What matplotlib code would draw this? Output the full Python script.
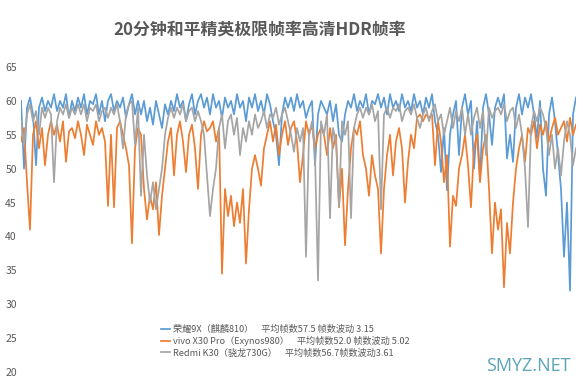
import matplotlib
matplotlib.use("Agg")
import matplotlib.pyplot as plt
import numpy as np

plt.rcParams['font.family'] = ['Noto Sans CJK SC', 'DejaVu Sans']

title = "20分钟和平精英极限帧率高清HDR帧率"
yticks = [20, 25, 30, 35, 40, 45, 50, 55, 60, 65]
labels = [
    "荣耀9X（麒麟810）    平均帧数57.5 帧数波动 3.15",
    "vivo X30 Pro（Exynos980）    平均帧数52.0 帧数波动 5.02",
    "Redmi K30（骁龙730G）    平均帧数56.7帧数波动3.61",
]

honor = [
    60, 50, 59, 60.5, 58, 50.5, 59, 60.5, 58.5, 60,
    59, 61, 58.5, 60, 59, 61, 57.5, 60, 58.5, 60.5,
    59, 61, 58, 60, 59.5, 61, 58, 60, 57, 60,
    61, 58.5, 60, 59, 60.5, 57.5, 59.5, 61, 58, 60,
    58, 60, 57, 59, 56.5, 60, 58, 56, 59.5, 58,
    60, 58.5, 61, 59, 60, 57, 59.5, 61, 58, 60,
    61, 59, 60.5, 58, 61, 59, 60, 57.5, 60.5, 59,
    60, 58, 61, 59, 60, 57, 60.5, 59, 61, 58.5,
    60, 58, 61, 59.5, 57, 55, 50.5, 58, 60.5, 59,
    60.5, 58.5, 61, 59, 60, 57.5, 59, 60, 50.5, 58,
    60, 59, 58, 60, 57, 59.5, 55, 54, 58, 60,
    59, 61, 58.5, 60, 59, 61, 58, 60, 59.5, 61,
    59, 60.5, 58, 61, 59, 60, 58.5, 61, 59, 60,
    58.5, 61, 59, 60, 58, 60.5, 59, 61, 57, 55,
    49.5, 56, 46.8, 55, 58, 60, 52, 59, 61, 58,
    60, 50, 57, 48.5, 59, 61, 58, 53.5, 59, 60.5,
    59, 61, 51.5, 55, 51, 59, 61, 58, 60.5, 59,
    61, 58, 54.5, 60, 50, 46, 58, 60.5, 57, 52,
    47, 37, 45, 32, 58, 60.5,
]

vivo = [
    54, 56, 48, 41, 55, 57, 53, 56, 50.5, 55,
    57, 55, 56.5, 54, 57, 51, 55.5, 56, 54.5, 57,
    55, 52, 56.5, 55, 53.5, 57, 55, 56, 54, 44.5,
    55, 44.3, 56, 57, 55, 53, 50.5, 39, 53, 56,
    55, 47, 42.5, 46, 44, 48, 40.2, 46, 50, 54,
    56, 49, 55, 57, 54, 49.5, 55, 56.5, 53, 47,
    55, 57, 55.5, 56, 57, 54, 56, 34.5, 47, 43,
    46, 41.5, 45, 42, 47, 36, 44, 50, 52, 50,
    47.5, 53, 55, 57, 54, 56.5, 52, 55, 57, 53.5,
    56, 57, 54, 48, 52, 57, 55, 56.5, 53, 55,
    56, 55, 52, 56, 53, 55, 44.3, 50, 38.7, 47,
    53, 56, 55, 57, 52, 50, 46, 52, 49, 47,
    37.5, 47, 52, 55, 49, 54, 56, 53, 45, 51,
    55, 53, 57.5, 58, 57, 58, 57.5, 58, 50.5, 57,
    54, 48, 52, 38.5, 46, 44.5, 50, 52, 55, 50.5,
    44.3, 53, 55, 48, 53, 55, 47, 37.5, 45, 41,
    44, 32.5, 42, 37.5, 45, 50, 53, 55, 51, 56,
    55, 57, 53, 56.5, 55, 57, 54, 56, 57.5, 55,
    56, 57, 54, 57.5, 55, 56.5,
]

redmi = [
    57, 53.5, 58, 59.5, 57, 58.5, 55, 59, 57.5, 59,
    58, 48, 57, 59, 58, 59.5, 57.5, 59, 58, 59.5,
    58, 59.5, 57, 59, 58.5, 59.5, 57, 58.5, 59, 57.5,
    59, 58, 59.5, 57, 53, 58, 59.5, 60, 53.5, 59,
    46, 55, 49, 45, 48, 44, 47, 50, 55, 57.5,
    59, 57.5, 59, 58, 59.5, 57, 58.5, 59, 57, 58.5,
    57, 55, 49, 43, 47, 50, 56, 58, 53, 57,
    58, 55, 57.5, 52, 56, 54, 57, 55, 58, 56,
    57, 58.5, 56, 58, 57.5, 59, 56.5, 58, 59, 57,
    55, 52.5, 56, 54, 56, 37, 55, 57, 52, 33.5,
    57, 55, 58, 42.7, 56, 54, 44.5, 57, 55, 57,
    42.7, 56, 58, 59, 57.5, 59, 58, 59.5, 57, 58.5,
    44, 58, 59, 57.5, 59, 58.5, 59.5, 57, 58.5, 59,
    58, 59.5, 57.5, 56, 58, 59, 57, 58.5, 59.5, 57,
    58, 55, 57, 59, 56, 58.5, 57, 59, 55, 58,
    55, 57.5, 59, 56, 58.5, 52, 59, 57.5, 58.5, 59,
    58, 59.5, 57, 58.5, 59, 56, 58, 55, 50, 41.4,
    56, 58.5, 57, 59, 58, 56, 52, 55, 50, 53,
    49, 54, 57, 55, 50.5, 53,
]

colors = ["#5B9BD5", "#ED7D31", "#A5A5A5"]

fig = plt.figure(figsize=(5.83, 3.84), dpi=100)
ax = fig.add_axes([21/583, 1 - 372/384, (576 - 21)/583, (372 - 67)/384])

for series, c, lab in zip([honor, vivo, redmi], colors, labels):
    ax.plot(np.arange(len(series)), series, color=c, lw=1.25, label=lab)

ax.set_xlim(0, len(honor) - 1)
ax.set_ylim(20, 65)
ax.set_yticks(yticks)
ax.set_xticks([])
ax.tick_params(axis='y', length=0, pad=3, labelsize=7.5, labelcolor="#595959")
for s in ax.spines.values():
    s.set_visible(False)

leg = ax.legend(loc="lower left", bbox_to_anchor=(0.245, 0.035), frameon=False,
                fontsize=6.6, handlelength=1.0, handletextpad=0.4,
                labelspacing=0.25, borderaxespad=0)
for t in leg.get_texts():
    t.set_color("#595959")

fig.text(260/583, 1 - 30/384, title, ha="center", va="center",
         fontsize=12.2, fontweight="bold", color="#595959")
fig.text(528/583, 1 - 366/384, "SMYZ.NET", ha="center", va="center",
         fontsize=13, color="#5BA3B8", family="Open Sans")

fig.savefig("out.png", dpi=100)
